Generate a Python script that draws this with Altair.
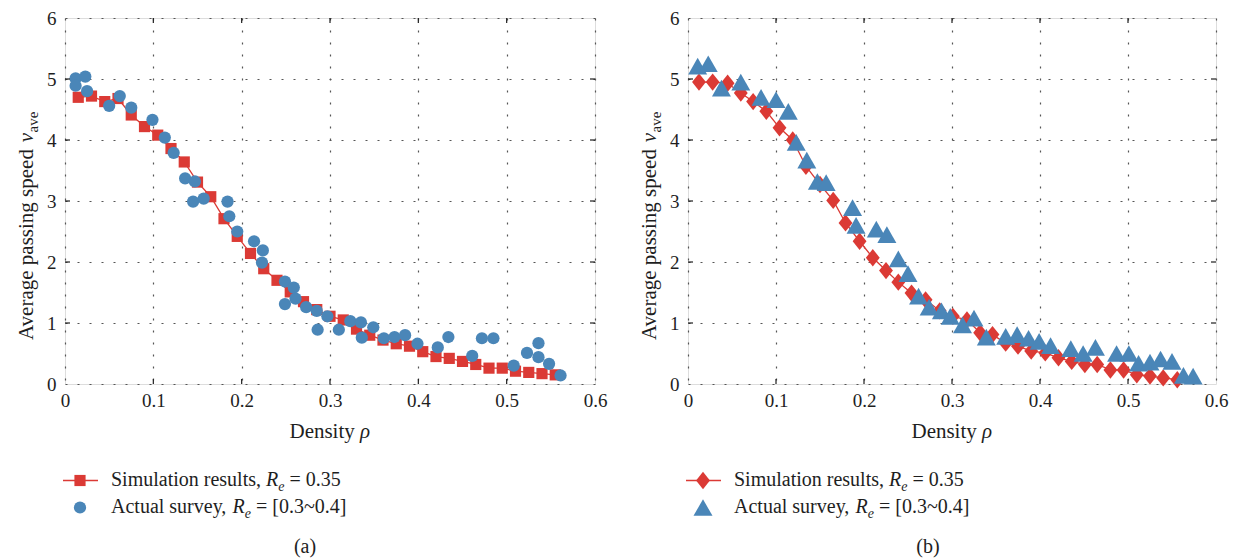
import altair as alt
import pandas as pd

FONT = "Liberation Serif"
RED = "#DB3A35"
BLUE = "#4A86B8"
INK = "#1E1E1E"

# ---------------- data ----------------
x_ticks = [0, 0.1, 0.2, 0.3, 0.4, 0.5, 0.6]
y_ticks = [0, 1, 2, 3, 4, 5, 6]

a_sim_x = [0.015, 0.030, 0.045, 0.060, 0.075, 0.090, 0.105, 0.120, 0.135, 0.150,
           0.165, 0.180, 0.195, 0.210, 0.225, 0.240, 0.255, 0.270, 0.285, 0.300,
           0.315, 0.330, 0.345, 0.360, 0.375, 0.390, 0.405, 0.420, 0.435, 0.450,
           0.465, 0.480, 0.495, 0.510, 0.525, 0.540, 0.555]
a_sim_y = [4.70, 4.72, 4.63, 4.68, 4.41, 4.22, 4.08, 3.86, 3.64, 3.31,
           3.07, 2.71, 2.42, 2.14, 1.89, 1.70, 1.51, 1.35, 1.22, 1.11,
           1.05, 0.90, 0.80, 0.72, 0.66, 0.62, 0.53, 0.45, 0.42, 0.37,
           0.32, 0.26, 0.26, 0.21, 0.19, 0.17, 0.15]
a_sur_x = [0.012, 0.023, 0.012, 0.025, 0.050, 0.062, 0.075, 0.099, 0.113, 0.123,
           0.136, 0.147, 0.145, 0.157, 0.184, 0.186, 0.195, 0.214, 0.224, 0.223,
           0.249, 0.259, 0.261, 0.249, 0.273, 0.285, 0.297, 0.286, 0.310, 0.323,
           0.335, 0.336, 0.349, 0.361, 0.373, 0.385, 0.399, 0.422, 0.434, 0.461,
           0.472, 0.485, 0.508, 0.523, 0.536, 0.536, 0.548, 0.561]
a_sur_y = [5.01, 5.04, 4.89, 4.80, 4.56, 4.72, 4.53, 4.33, 4.04, 3.79,
           3.37, 3.32, 2.99, 3.04, 2.99, 2.75, 2.50, 2.34, 2.19, 1.99,
           1.68, 1.58, 1.40, 1.31, 1.26, 1.20, 1.11, 0.89, 0.89, 1.03,
           1.01, 0.76, 0.93, 0.75, 0.77, 0.80, 0.66, 0.60, 0.77, 0.46,
           0.75, 0.75, 0.30, 0.51, 0.44, 0.67, 0.33, 0.14]

b_sim_x = [0.0125, 0.028, 0.045, 0.060, 0.074, 0.089, 0.104, 0.119, 0.134, 0.150,
           0.165, 0.179, 0.195, 0.210, 0.225, 0.239, 0.254, 0.270, 0.286, 0.301,
           0.317, 0.332, 0.346, 0.361, 0.375, 0.390, 0.406, 0.421, 0.436, 0.451,
           0.465, 0.480, 0.495, 0.510, 0.525, 0.540, 0.556]
b_sim_y = [4.95, 4.95, 4.93, 4.77, 4.63, 4.47, 4.20, 4.00, 3.57, 3.27,
           3.01, 2.64, 2.34, 2.07, 1.86, 1.67, 1.49, 1.38, 1.20, 1.11,
           1.05, 0.84, 0.81, 0.67, 0.62, 0.54, 0.51, 0.43, 0.37, 0.32,
           0.32, 0.23, 0.23, 0.15, 0.13, 0.10, 0.07]
b_sur_x = [0.011, 0.023, 0.038, 0.060, 0.083, 0.100, 0.114, 0.123, 0.135, 0.147,
           0.157, 0.187, 0.191, 0.214, 0.226, 0.239, 0.250, 0.262, 0.274, 0.288,
           0.298, 0.312, 0.325, 0.339, 0.361, 0.374, 0.387, 0.399, 0.412, 0.435,
           0.449, 0.463, 0.487, 0.501, 0.512, 0.525, 0.537, 0.550, 0.563, 0.574]
b_sur_y = [5.21, 5.25, 4.85, 4.95, 4.70, 4.66, 4.47, 3.96, 3.67, 3.32,
           3.30, 2.89, 2.60, 2.54, 2.45, 2.05, 1.81, 1.44, 1.26, 1.20,
           1.11, 0.97, 1.08, 0.77, 0.78, 0.81, 0.75, 0.70, 0.63, 0.58,
           0.50, 0.60, 0.50, 0.50, 0.34, 0.36, 0.41, 0.37, 0.14, 0.13]

sim_label = "Simulation results,"
sim_value = "= 0.35"
sur_label = "Actual survey,"
sur_value = "= [0.3~0.4]"
x_title = "Density"
x_title_sym = "\u03c1"
y_title = "Average passing speed"
y_title_sym = "v"
y_title_sub = "ave"

# ---------------- layout / style ----------------
H = 366
F = 20          # legend text size
FT = 21         # axis title size
SUB = 14        # subscript size
DIAMOND = "M0,-1L0.8,0L0,1L-0.8,0Z"
TRIANGLE = "M0,-0.88L1,0.88L-1,0.88Z"

ONE = pd.DataFrame({"k": [0]})


def piece(text, x, y, size=F, italic=False, angle=None, align="left"):
    kw = dict(text=text, font=FONT, fontSize=size, align=align,
              baseline="alphabetic", color=INK)
    if italic:
        kw["fontStyle"] = "italic"
    if angle is not None:
        kw["angle"] = angle
    return alt.Chart(ONE).mark_text(**kw).encode(x=alt.value(x), y=alt.value(y))


def sym(shape, size, color, x, y):
    return alt.Chart(ONE).mark_point(shape=shape, size=size, filled=True,
                                     color=color, opacity=1, strokeWidth=0).encode(
        x=alt.value(x), y=alt.value(y))


def panel(sim_x, sim_y, sur_x, sur_y, sim_shape, sim_size, sur_shape, sur_size,
          caption, W):
    sim = pd.DataFrame({"rho": sim_x, "v": sim_y})
    sur = pd.DataFrame({"rho": sur_x, "v": sur_y})
    xs = alt.Scale(domain=[0, 0.6], nice=False, zero=False)
    ys = alt.Scale(domain=[0, 6], nice=False)
    common = dict(grid=True, ticks=False, domain=False, title=None,
                  labelFont=FONT, labelFontSize=19, labelColor=INK,
                  gridDash=[2, 10], gridColor="#555555", gridWidth=1.2)
    X = alt.X("rho:Q", scale=xs,
              axis=alt.Axis(values=x_ticks, format=".1~f", labelPadding=7,
                            labelFlush=False, **common))
    Y = alt.Y("v:Q", scale=ys,
              axis=alt.Axis(values=y_ticks, format="d", labelPadding=9,
                            labelFlush=False, **common))

    line = alt.Chart(sim).mark_line(color=RED, strokeWidth=1.3).encode(x=X, y=Y)
    sim_pts = alt.Chart(sim).mark_point(shape=sim_shape, size=sim_size, filled=True,
                                        color=RED, opacity=1, strokeWidth=0).encode(
        x="rho:Q", y="v:Q")
    sur_pts = alt.Chart(sur).mark_point(shape=sur_shape, size=sur_size, filled=True,
                                        color=BLUE, opacity=1, strokeWidth=0).encode(
        x="rho:Q", y="v:Q")

    # inward ticks on the frame
    xt = pd.DataFrame({"t": x_ticks[1:-1]})
    yt = pd.DataFrame({"u": y_ticks[1:-1]})
    tick_b = alt.Chart(xt).mark_rule(color=INK, strokeWidth=1.2).encode(
        x="t:Q", y=alt.value(H), y2=alt.value(H - 5))
    tick_t = alt.Chart(xt).mark_rule(color=INK, strokeWidth=1.2).encode(
        x="t:Q", y=alt.value(0), y2=alt.value(5))
    tick_l = alt.Chart(yt).mark_rule(color=INK, strokeWidth=1.2).encode(
        y="u:Q", x=alt.value(0), x2=alt.value(5))
    tick_r = alt.Chart(yt).mark_rule(color=INK, strokeWidth=1.2).encode(
        y="u:Q", x=alt.value(W), x2=alt.value(W - 5))

    # legend (custom, below the plot)
    r1, r2 = 462.5, 489.5
    b1, b2 = 467.5, 494.5
    sx, t0 = 15, 46
    leg_line = alt.Chart(ONE).mark_rule(color=RED, strokeWidth=1.3).encode(
        x=alt.value(sx - 17), x2=alt.value(sx + 18), y=alt.value(r1))
    leg = [
        leg_line,
        sym(sim_shape, sim_size, RED, sx, r1),
        sym(sur_shape, sur_size, BLUE, sx, r2),
        piece(sim_label, t0, b1),
        piece("R", t0 + 155, b1, italic=True),
        piece("e", t0 + 167.2, b1 + 5, size=SUB, italic=True),
        piece(sim_value, t0 + 178.4, b1),
        piece(sur_label, t0, b2),
        piece("R", t0 + 121.6, b2, italic=True),
        piece("e", t0 + 133.8, b2 + 5, size=SUB, italic=True),
        piece(sur_value, t0 + 145, b2),
    ]

    # axis titles
    xc = W / 2
    xb = 420
    xw = 3.111 * FT + 0.25 * FT + 0.5 * FT
    xtitle = [
        piece(x_title, xc - xw / 2, xb, size=FT),
        piece(x_title_sym, xc - xw / 2 + 3.361 * FT, xb, size=FT, italic=True),
    ]
    yb = -32
    y0 = 322
    l1 = 9.164 * FT + 0.25 * FT
    ytitle = [
        piece(y_title, yb, y0, size=FT, angle=270),
        piece(y_title_sym, yb, y0 - l1, size=FT, italic=True, angle=270),
        piece(y_title_sub, yb + 5, y0 - l1 - 0.444 * FT - 0.5, size=15, angle=270),
    ]
    cap = piece(caption, 240, 535, align="center")

    return alt.layer(line, sim_pts, sur_pts, tick_b, tick_t, tick_l, tick_r,
                     *leg, *xtitle, *ytitle, cap).properties(width=W, height=H)


pa = panel(a_sim_x, a_sim_y, a_sur_x, a_sur_y, "square", 125, "circle", 150,
           "(a)", 530)
pb = panel(b_sim_x, b_sim_y, b_sur_x, b_sur_y, DIAMOND, 300, TRIANGLE, 360,
           "(b)", 528)

chart = alt.hconcat(pa, pb, spacing=30).properties(
    padding={"left": 7, "top": 0, "right": 0, "bottom": 0}
).configure_view(stroke=INK, strokeWidth=1.5).configure(font=FONT)

chart.save("out.html", embed_options={"renderer": "svg", "actions": False})
